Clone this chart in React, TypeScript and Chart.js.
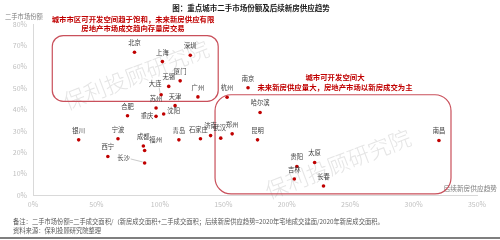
import React, { useEffect, useRef } from 'react';
import { Chart, registerables } from 'chart.js';

Chart.register(...registerables);

// ---- data ----
const cities = ['北京', '上海', '深圳', '厦门', '无锡', '大连', '广州', '苏州', '天津', '合肥', '重庆', '沈阳', '杭州', '南京', '哈尔滨', '昆明', '郑州', '武汉', '济南', '石家庄', '青岛', '银川', '宁波', '西宁', '成都', '福州', '长沙', '南昌', '贵阳', '太原', '吉林', '长春'];
const supplyTrend = [80, 102, 124, 116, 107, 101, 130, 97, 112, 74.5, 97, 103, 153, 169.5, 179, 177, 157, 148, 140, 132, 115, 36, 67, 59, 87, 88, 88, 320, 208, 222, 206, 229];
const secondHandShare = [66.8, 62.4, 65.4, 53.4, 50.8, 46.9, 45.9, 40.7, 41.8, 37.1, 36.8, 37.9, 45.7, 50.2, 38.6, 25.8, 28.6, 26.6, 27.8, 26.3, 25.8, 25.8, 26.3, 18, 22.9, 20.8, 15, 25.5, 13.3, 15.2, 7.5, 4.2];
const xTickMax = 350;
const yTickMax = 80;

const titleText = '图：重点城市二手市场份额及后续新房供应趋势';
const yAxisTitle = '二手市场份额';
const xAxisTitle = '后续新房供应趋势';
const noteLeft = ['城市市区可开发空间趋于饱和，未来新房供应有限', '房地产市场成交趋向存量房交易'];
const noteRight = ['城市可开发空间大', '未来新房供应量大，房地产市场以新房成交为主'];
const footnotes = ['备注：二手市场份额=二手成交面积/（新房成交面积+二手成交面积；后续新房供应趋势=2020年宅地成交建面/2020年新房成交面积。', '资料来源：保利投顾研究院整理'];
const watermark = '保利投顾研究院';

// label placement (style) per city: dx, dy from the point, and optional leader line
const labelOffsets: Record<string, [number, number, boolean?]> = {
  '大连': [-6, -11, true],
  '重庆': [-9, -0.5],
  '沈阳': [10, -3],
  '福州': [11, -10.5],
  '长沙': [-21, -5, true],
  '石家庄': [-2, -9.5],
  '武汉': [-1, -11],
};

const FONT = "'Noto Sans CJK SC', 'Noto Sans', sans-serif";
const RED = '#c00000';

const overlay = {
  id: 'overlay',
  beforeDatasetsDraw(chart: any) {
    const ctx = chart.ctx as CanvasRenderingContext2D;
    ctx.save();
    ctx.fillStyle = 'rgba(150,150,150,0.25)';
    ctx.font = `300 22px ${FONT}`;
    ctx.textAlign = 'center';
    ctx.textBaseline = 'middle';
    const marks: [number, number][] = [[136, 75], [338, 164]];
    for (const [cx, cy] of marks) {
      ctx.save();
      ctx.translate(cx, cy);
      ctx.rotate(-21 * Math.PI / 180);
      ctx.fillText(watermark, 0, 0);
      ctx.restore();
    }
    ctx.restore();
  },
  afterDraw(chart: any) {
    const ctx = chart.ctx as CanvasRenderingContext2D;
    const xs = chart.scales.x;
    const ys = chart.scales.y;
    ctx.save();
    // title
    ctx.fillStyle = '#1a1a1a';
    ctx.font = `bold 7.5px ${FONT}`;
    ctx.textAlign = 'center';
    ctx.textBaseline = 'middle';
    ctx.fillText(titleText, 251, 8);
    // axis titles
    ctx.fillStyle = '#7f7f7f';
    ctx.font = `6.3px ${FONT}`;
    ctx.textAlign = 'left';
    ctx.fillText(yAxisTitle, 5, 17);
    ctx.textAlign = 'right';
    ctx.font = `6.7px ${FONT}`;
    ctx.fillText(xAxisTitle, 497, 188);

    // rounded boxes (in data space)
    ctx.strokeStyle = '#c9505b';
    ctx.lineWidth = 1.2;
    const box = (x0: number, x1: number, y0: number, y1: number, r: number) => {
      const l = xs.getPixelForValue(x0), rr = xs.getPixelForValue(x1);
      const t = ys.getPixelForValue(y0), b = ys.getPixelForValue(y1);
      ctx.beginPath();
      (ctx as any).roundRect(l, t, rr - l, b - t, r);
      ctx.stroke();
    };
    box(15.2, 146, 74.6, 43.8, 11);
    box(143.5, 329.5, 46.9, 0.5, 16);

    // red notes
    ctx.fillStyle = RED;
    ctx.font = `bold 7.4px ${FONT}`;
    ctx.textAlign = 'center';
    ctx.fillText(noteLeft[0], 133, 19);
    ctx.fillText(noteLeft[1], 133, 28);
    ctx.fillText(noteRight[0], 335, 77.5);
    ctx.fillText(noteRight[1], 335, 87);

    // point labels
    ctx.font = `6.3px ${FONT}`;
    ctx.fillStyle = '#404040';
    ctx.textAlign = 'center';
    ctx.textBaseline = 'middle';
    cities.forEach((c, i) => {
      const px = xs.getPixelForValue(supplyTrend[i]);
      const py = ys.getPixelForValue(secondHandShare[i]);
      const off = labelOffsets[c] || [0, -9.5];
      const lx = px + off[0], ly = py + off[1];
      ctx.fillText(c, lx, ly);
      if (off[2]) {
        ctx.save();
        ctx.strokeStyle = '#a6a6a6';
        ctx.lineWidth = 0.6;
        ctx.beginPath();
        if (off[0] < -15) {
          ctx.moveTo(lx + 7, ly + 1);
          ctx.lineTo(px - 2, py - 1);
        } else {
          ctx.moveTo(lx + 4, ly + 4);
          ctx.lineTo(px - 1, py - 1.5);
        }
        ctx.stroke();
        ctx.restore();
      }
    });

    // footnotes
    ctx.fillStyle = '#595959';
    ctx.font = `6.3px ${FONT}`;
    ctx.textAlign = 'left';
    ctx.fillText(footnotes[0], 13, 222);
    ctx.fillText(footnotes[1], 13, 231);
    // bottom rule
    ctx.fillStyle = '#7f7f7f';
    ctx.fillRect(0, 237, 500, 2);
    ctx.restore();
  },
};

export default function App() {
  const ref = useRef<HTMLCanvasElement>(null);
  useEffect(() => {
    if (!ref.current) return;
    const chart = new Chart(ref.current, {
      type: 'scatter',
      data: {
        datasets: [{
          data: cities.map((_, i) => ({ x: supplyTrend[i], y: secondHandShare[i] })),
          backgroundColor: RED,
          borderColor: RED,
          pointRadius: 1.8,
          borderWidth: 0,
        }],
      },
      options: {
        responsive: false,
        animation: false,
        events: [],
        layout: { padding: { top: 24, right: 23, bottom: 30, left: 0 } },
        plugins: { legend: { display: false }, tooltip: { enabled: false }, title: { display: false } },
        scales: {
          x: {
            type: 'linear',
            min: 0,
            max: xTickMax,
            afterFit: (s: any) => { s.height = 15; },
            grid: { display: false, drawTicks: false },
            border: { display: true, color: '#d9d9d9', width: 1 },
            ticks: { stepSize: 50, padding: 5, color: '#bfbfbf', font: { family: FONT, size: 7 }, callback: (v: any) => `${v}%` },
          },
          y: {
            type: 'linear',
            min: 0,
            max: yTickMax,
            afterFit: (s: any) => { s.width = 33; },
            grid: { display: false, drawTicks: false },
            border: { display: true, color: '#d9d9d9', width: 1 },
            ticks: { stepSize: 10, padding: 6, color: '#bfbfbf', font: { family: FONT, size: 7 }, callback: (v: any) => `${v}%` },
          },
        },
      },
      plugins: [overlay],
    });
    return () => chart.destroy();
  }, []);
  return (
    <div style={{ position: 'absolute', left: 0, top: 0, width: 500, height: 240, background: '#fff' }}>
      <canvas ref={ref} width={500} height={240} style={{ display: 'block' }} />
    </div>
  );
}
